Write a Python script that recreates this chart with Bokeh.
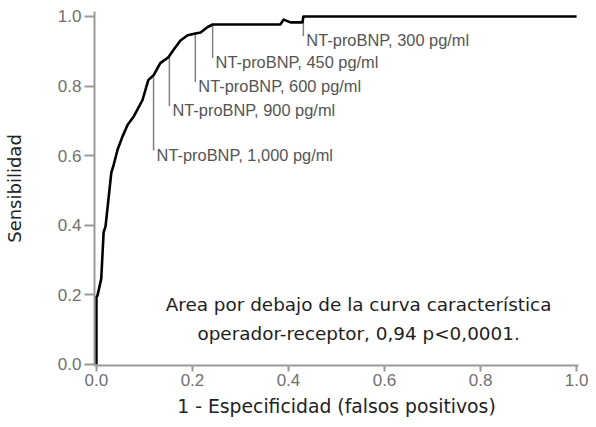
from bokeh.plotting import figure
from bokeh.models import Range1d, FixedTicker, Label, ColumnDataSource
from bokeh.embed import file_html
from bokeh.resources import INLINE
from bokeh.core.properties import value

# ROC curve (1 - specificity, sensitivity)
fpr = [0.0, 0.0, 0.002, 0.010, 0.015, 0.019, 0.025, 0.031, 0.035, 0.044, 0.054,
       0.065, 0.077, 0.096, 0.108, 0.119, 0.133, 0.150, 0.160, 0.175, 0.190,
       0.206, 0.217, 0.231, 0.242, 0.383, 0.390, 0.404, 0.429, 0.431, 1.0]
sens = [0.0, 0.194, 0.197, 0.246, 0.380, 0.397, 0.474, 0.551, 0.569, 0.617, 0.654,
        0.689, 0.711, 0.760, 0.817, 0.831, 0.866, 0.883, 0.903, 0.931, 0.946,
        0.951, 0.954, 0.969, 0.977, 0.977, 0.991, 0.983, 0.983, 1.0, 1.0]

# cut-off points marked on the curve
cut_labels = ["NT-proBNP, 1,000 pg/ml", "NT-proBNP, 900 pg/ml", "NT-proBNP, 600 pg/ml",
              "NT-proBNP, 450 pg/ml", "NT-proBNP, 300 pg/ml"]
cut_fpr = [0.119, 0.152, 0.206, 0.242, 0.431]
cut_sens = [0.825, 0.885, 0.951, 0.977, 1.0]

tick_values = [0.0, 0.2, 0.4, 0.6, 0.8, 1.0]
tick_labels = ["0.0", "0.2", "0.4", "0.6", "0.8", "1.0"]

auc_lines = ["Area por debajo de la curva característica",
             "operador-receptor, 0,94 p<0,0001."]

x_label = "1 - Especificidad (falsos positivos)"
y_label = "Sensibilidad"

# layout (label text placement)
label_y = [0.603, 0.731, 0.800, 0.869, 0.931]
line_end = [ly + 0.012 for ly in label_y]
auc_pos = [(0.546, 0.171), (0.546, 0.089)]

p = figure(width=588, height=419, output_backend="svg", toolbar_location=None,
           x_range=Range1d(-0.004, 1.004), y_range=Range1d(-0.003, 1.0143),
           min_border_left=94, min_border_right=10, min_border_top=11, min_border_bottom=52)
p.xgrid.visible = False
p.ygrid.visible = False
p.outline_line_color = None
p.background_fill_color = "white"

for ax in (p.xaxis[0], p.yaxis[0]):
    ax.ticker = FixedTicker(ticks=tick_values)
    ax.major_label_overrides = {v: t for v, t in zip(tick_values, tick_labels)}
    ax.axis_line_color = "#999999"
    ax.axis_line_width = 2
    ax.major_tick_line_color = "#999999"
    ax.major_tick_line_width = 2
    ax.major_tick_in = 0
    ax.minor_tick_line_color = None
    ax.major_label_text_font = "Liberation Sans"
    ax.major_label_text_font_size = "17px"
    ax.major_label_text_color = "#707070"
    ax.axis_label_text_font = "DejaVu Sans"
    ax.axis_label_text_font_size = "18.8px"
    ax.axis_label_text_font_style = "normal"
    ax.axis_label_text_color = "#222222"

p.xaxis.axis_label = x_label
p.xaxis.major_tick_out = 6
p.xaxis.major_label_standoff = 2
p.xaxis.axis_label_standoff = 7
p.yaxis.axis_label = y_label
p.yaxis.axis_label_text_font_size = "18px"
p.yaxis.major_tick_out = 10
p.yaxis.major_label_standoff = 3
p.yaxis.axis_label_standoff = 30

# leader lines
src = ColumnDataSource(dict(x=cut_fpr, y0=cut_sens, y1=line_end, ly=label_y, text=cut_labels))
p.segment(x0="x", y0="y0", x1="x", y1="y1", source=src, line_color="#808080", line_width=1.5)
p.text(x="x", y="ly", text="text", source=src, x_offset=3,
       text_font=value("Liberation Sans"), text_font_size="16.4px", text_color="#555555",
       text_baseline="middle", text_align="left")

p.line(fpr, sens, line_color="black", line_width=2.6, line_join="round")

for (lx, ly), t in zip(auc_pos, auc_lines):
    p.add_layout(Label(x=lx, y=ly, text=t, text_align="center", text_baseline="middle",
                       text_font="DejaVu Sans", text_font_size="18.4px", text_color="#1e1e1e"))

open("out.html", "w").write(file_html(p, INLINE))
